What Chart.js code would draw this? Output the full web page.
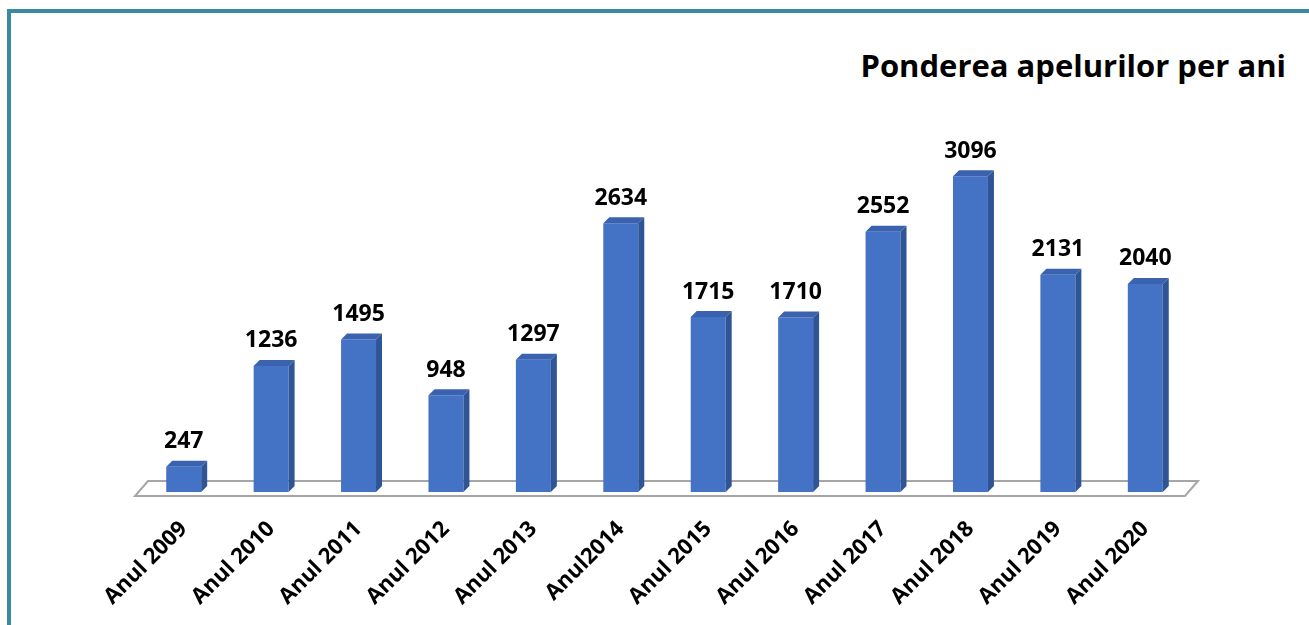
<!DOCTYPE html>
<html>
<head>
<meta charset="utf-8">
<script src="https://cdn.jsdelivr.net/npm/chart.js@4.4.1/dist/chart.umd.min.js"></script>
<style>
  html, body { margin: 0; padding: 0; background: #fff; }
  #wrap { position: relative; width: 1309px; height: 625px; overflow: hidden; background: #fff; }
  #frame { position: absolute; left: 7px; top: 9px; right: -10px; bottom: -10px; border-left: 4px solid #3A8AA0; border-top: 4px solid #3A8AA0; }
  #title { position: absolute; right: 23px; top: 44px; font: bold 31px "Open Sans", sans-serif; color: #000; white-space: nowrap; }
  #c { position: absolute; left: 0; top: 0; }
</style>
</head>
<body>
<div id="wrap">
  <div id="frame"></div>
  <div id="title">Ponderea apelurilor per ani</div>
  <canvas id="c" width="1309" height="625"></canvas>
</div>
<script>
const years = ['Anul 2009', 'Anul 2010', 'Anul 2011', 'Anul 2012', 'Anul 2013', 'Anul2014',
  'Anul 2015', 'Anul 2016', 'Anul 2017', 'Anul 2018', 'Anul 2019', 'Anul 2020'];
const apeluri = [247, 1236, 1495, 948, 1297, 2634, 1715, 1710, 2552, 3096, 2131, 2040];

const FRONT = '#4472C4', SIDE = '#2F5597', TOP = '#3A62AE';
const DX = 6, DY = -6;

// floor plane under the bars
const floorPlugin = {
  id: 'floor',
  beforeDatasetsDraw(chart) {
    const { ctx, chartArea: a } = chart;
    ctx.save();
    ctx.strokeStyle = '#A6A6A6';
    ctx.lineWidth = 2;
    ctx.beginPath();
    ctx.moveTo(a.left - 5, a.bottom + 4);
    ctx.lineTo(a.right - 4, a.bottom + 4);
    ctx.lineTo(a.right + 9, a.bottom - 11);
    ctx.lineTo(a.left + 8, a.bottom - 11);
    ctx.closePath();
    ctx.stroke();
    ctx.restore();
  }
};

// side + top faces, then value labels
const boxPlugin = {
  id: 'box3d',
  afterDatasetsDraw(chart) {
    const ctx = chart.ctx;
    const meta = chart.getDatasetMeta(0);
    ctx.save();
    meta.data.forEach((bar, i) => {
      const p = bar.getProps(['x', 'y', 'base', 'width'], true);
      const l = p.x - p.width / 2, r = p.x + p.width / 2, t = p.y, b = p.base;
      ctx.fillStyle = SIDE;
      ctx.beginPath();
      ctx.moveTo(r, t); ctx.lineTo(r + DX, t + DY); ctx.lineTo(r + DX, b + DY); ctx.lineTo(r, b);
      ctx.closePath(); ctx.fill();
      ctx.fillStyle = TOP;
      ctx.beginPath();
      ctx.moveTo(l, t); ctx.lineTo(l + DX, t + DY); ctx.lineTo(r + DX, t + DY); ctx.lineTo(r, t);
      ctx.closePath(); ctx.fill();

      ctx.fillStyle = '#000';
      ctx.font = 'bold 23px "Open Sans", sans-serif';
      ctx.textAlign = 'center';
      ctx.textBaseline = 'middle';
      ctx.fillText(String(apeluri[i]), p.x, t - 25);
    });
    ctx.restore();
  }
};

new Chart(document.getElementById('c'), {
  type: 'bar',
  data: {
    labels: years,
    datasets: [{
      label: 'Apeluri',
      data: apeluri,
      backgroundColor: FRONT,
      borderWidth: 0,
      barPercentage: 0.4,
      categoryPercentage: 1
    }]
  },
  options: {
    responsive: false,
    animation: false,
    layout: { padding: { left: 140, right: 120, top: 135, bottom: 0 } },
    plugins: { legend: { display: false }, title: { display: false }, tooltip: { enabled: false } },
    scales: {
      x: {
        grid: { display: false },
        border: { display: false },
        afterFit: s => { s.height = 133; },
        ticks: {
          color: '#000',
          font: { family: 'Open Sans', size: 22, weight: 'bold' },
          maxRotation: 45, minRotation: 45,
          padding: 16
        }
      },
      y: {
        display: false,
        min: 0,
        max: 3500
      }
    }
  },
  plugins: [floorPlugin, boxPlugin]
});
</script>
</body>
</html>
